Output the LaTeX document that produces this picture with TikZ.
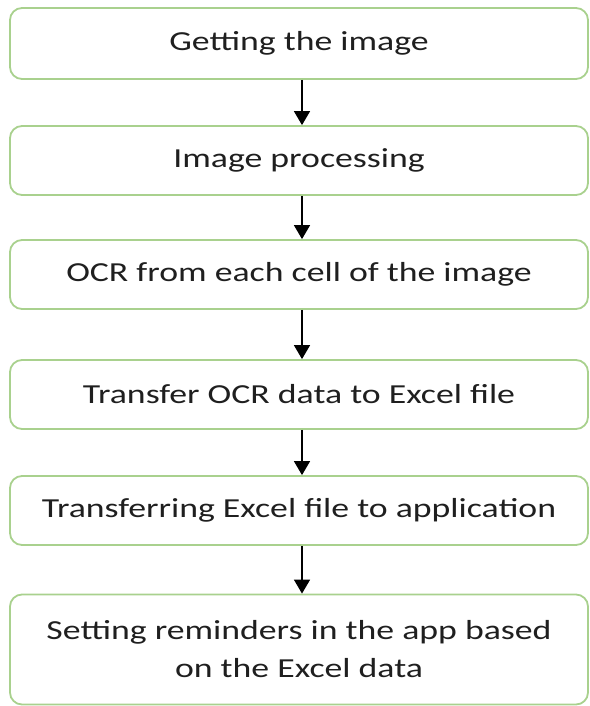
\documentclass[tikz,border=0pt]{standalone}
\usepackage{fontspec}
\setmainfont[FakeStretch=1.3]{Carlito}
\usetikzlibrary{arrows.meta}
\definecolor{boxgreen}{HTML}{A9D18E}
\definecolor{txt}{HTML}{1F1F1F}
\begin{document}
\begin{tikzpicture}[x=1pt,y=-1pt,
  stepbox/.style={draw=boxgreen,line width=1.8pt,rounded corners=12pt,fill=white,
    minimum width=578pt,inner sep=0pt,text=txt,font=\fontsize{27.5}{38}\selectfont,align=center},
  conn/.style={-{Triangle[width=16pt,length=14pt]},line width=1.5pt,black}]
\useasboundingbox (0,0) rectangle (589,706);
\node[stepbox,minimum height=71pt] (b1) at (299,43.5) {Getting the image};
\node[stepbox,minimum height=69pt] (b2) at (299,160.5) {Image processing};
\node[stepbox,minimum height=69pt] (b3) at (299,274.5) {OCR from each cell of the image};
\node[stepbox,minimum height=69pt] (b4) at (299,394.5) {Transfer OCR data to Excel file};
\node[stepbox,minimum height=69pt] (b5) at (299,510.5) {Transferring Excel file to application};
\node[stepbox,minimum height=110pt] (b6) at (299,649.5) {Setting reminders in the app based\\on the Excel data};
\foreach \a/\b in {b1/b2,b2/b3,b3/b4,b4/b5,b5/b6}{
  \draw[conn] ([xshift=3pt]\a.south) -- ([xshift=3pt]\b.north);
}
\end{tikzpicture}
\end{document}
